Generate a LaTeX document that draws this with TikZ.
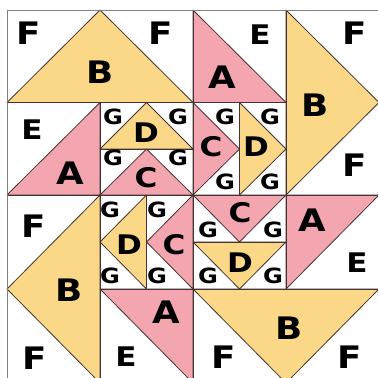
\documentclass[tikz,border=0pt]{standalone}
\usepackage{fontspec}
\setmainfont{DejaVu Sans}
\definecolor{qyel}{RGB}{250,216,136}
\definecolor{qpnk}{RGB}{244,166,176}
\definecolor{qedge}{RGB}{70,50,50}
\newcommand\qwide[1]{\scalebox{1.15}[1]{#1}}
\tikzset{
  yelp/.style={fill=qyel,draw=qedge,line width=0.8pt,line join=round},
  pnkp/.style={fill=qpnk,draw=qedge,line width=0.8pt,line join=round},
  cellp/.style={draw=qedge,line width=0.8pt},
  big/.style={font=\bfseries\fontsize{31}{31}\selectfont,inner sep=0pt},
  mid/.style={font=\bfseries\fontsize{27}{27}\selectfont,inner sep=0pt},
  sml/.style={font=\bfseries\fontsize{21}{21}\selectfont,inner sep=0pt}
}
\begin{document}
\begin{tikzpicture}[x=1pt,y=-1pt]
\useasboundingbox (0,0) rectangle (378,378);
\fill[white] (0,0) rectangle (378,378);
\begin{scope}
\clip (0,0) rectangle (378,378);
% triangles
\path[yelp] (7,102.5) -- (193,102.5) -- (100,10) -- cycle;
\path[pnkp] (193,10) -- (193,102.5) -- (286,102.5) -- cycle;
\path[yelp] (286,10) -- (286,195) -- (379,102.5) -- cycle;
\path[pnkp] (100,102.5) -- (100,195) -- (7,195) -- cycle;
\path[yelp] (100,149) -- (193,149) -- (146.5,102.5) -- cycle;
\path[pnkp] (100,195) -- (193,195) -- (146.5,149) -- cycle;
\path[pnkp] (193,102.5) -- (193,195) -- (239.5,149) -- cycle;
\path[yelp] (239.5,102.5) -- (239.5,195) -- (286,149) -- cycle;
\path[yelp] (100,195) -- (100,383) -- (7,289) -- cycle;
\path[yelp] (146.5,195) -- (146.5,289) -- (100,242) -- cycle;
\path[pnkp] (193,195) -- (193,289) -- (146.5,242) -- cycle;
\path[pnkp] (193,195) -- (286,195) -- (239.5,242) -- cycle;
\path[yelp] (193,242) -- (286,242) -- (239.5,289) -- cycle;
\path[pnkp] (286,195) -- (379,195) -- (286,289) -- cycle;
\path[pnkp] (100,289) -- (193,289) -- (193,383) -- cycle;
\path[yelp] (193,289) -- (379,289) -- (286,383) -- cycle;
% cells
\draw[cellp] (7,10) rectangle (193,102.5);
\draw[cellp] (193,10) rectangle (286,102.5);
\draw[cellp] (286,10) rectangle (379,195);
\draw[cellp] (7,102.5) rectangle (100,195);
\draw[cellp] (100,102.5) rectangle (193,149);
\draw[cellp] (100,149) rectangle (193,195);
\draw[cellp] (193,102.5) rectangle (239.5,195);
\draw[cellp] (239.5,102.5) rectangle (286,195);
\draw[cellp] (7,195) rectangle (100,383);
\draw[cellp] (100,195) rectangle (146.5,289);
\draw[cellp] (146.5,195) rectangle (193,289);
\draw[cellp] (193,195) rectangle (286,242);
\draw[cellp] (193,242) rectangle (286,289);
\draw[cellp] (286,195) rectangle (379,289);
\draw[cellp] (100,289) rectangle (193,383);
\draw[cellp] (193,289) rectangle (379,383);
\draw[gray,line width=0.8pt] (7,10) rectangle (379,383);
\end{scope}
% labels
\node[big] (f1) at (29,33) {\qwide{F}};
\node[big] (f2) at (161,33) {\qwide{F}};
\node[big] (b1) at (100,72) {\qwide{B}};
\node[mid] (e1) at (260,35) {\qwide{E}};
\node[big] (f3) at (355,33) {\qwide{F}};
\node[big] (a1) at (222,77) {\qwide{A}};
\node[big] (b2) at (315,105) {\qwide{B}};
\node[big] (f4) at (355,165) {\qwide{F}};
\node[mid] (e2) at (32,130) {\qwide{E}};
\node[big] (a2) at (70,173) {\qwide{A}};
\node[sml] (g1) at (113,117) {\qwide{G}};
\node[sml] (g2) at (178,117) {\qwide{G}};
\node[mid] (d1) at (146,133) {\qwide{D}};
\node[sml] (g3) at (113,158) {\qwide{G}};
\node[sml] (g4) at (178,158) {\qwide{G}};
\node[mid] (c1) at (146,178) {\qwide{C}};
\node[sml] (g5) at (225,117) {\qwide{G}};
\node[sml] (g6) at (270,117) {\qwide{G}};
\node[mid] (c2) at (211,147) {\qwide{C}};
\node[mid] (d2) at (256,147) {\qwide{D}};
\node[sml] (g7) at (225,182) {\qwide{G}};
\node[sml] (g8) at (270,182) {\qwide{G}};
\node[big] (f5) at (34,226) {\qwide{F}};
\node[big] (b3) at (69,290) {\qwide{B}};
\node[big] (f6) at (35,358) {\qwide{F}};
\node[mid] (e3) at (126,357) {\qwide{E}};
\node[big] (a3) at (166,312) {\qwide{A}};
\node[sml] (g9) at (110,210) {\qwide{G}};
\node[sml] (g10) at (157,210) {\qwide{G}};
\node[mid] (d3) at (129,245) {\qwide{D}};
\node[mid] (c3) at (174,245) {\qwide{C}};
\node[sml] (g11) at (110,276) {\qwide{G}};
\node[sml] (g12) at (157,276) {\qwide{G}};
\node[mid] (c4) at (240,213) {\qwide{C}};
\node[sml] (g13) at (208,230) {\qwide{G}};
\node[sml] (g14) at (273,230) {\qwide{G}};
\node[mid] (d4) at (240,263) {\qwide{D}};
\node[sml] (g15) at (208,276) {\qwide{G}};
\node[sml] (g16) at (273,276) {\qwide{G}};
\node[big] (a4) at (312,220) {\qwide{A}};
\node[mid] (e4) at (357,263) {\qwide{E}};
\node[big] (b4) at (289,328) {\qwide{B}};
\node[big] (f7) at (224,357) {\qwide{F}};
\node[big] (f8) at (350,357) {\qwide{F}};
\end{tikzpicture}
\end{document}
